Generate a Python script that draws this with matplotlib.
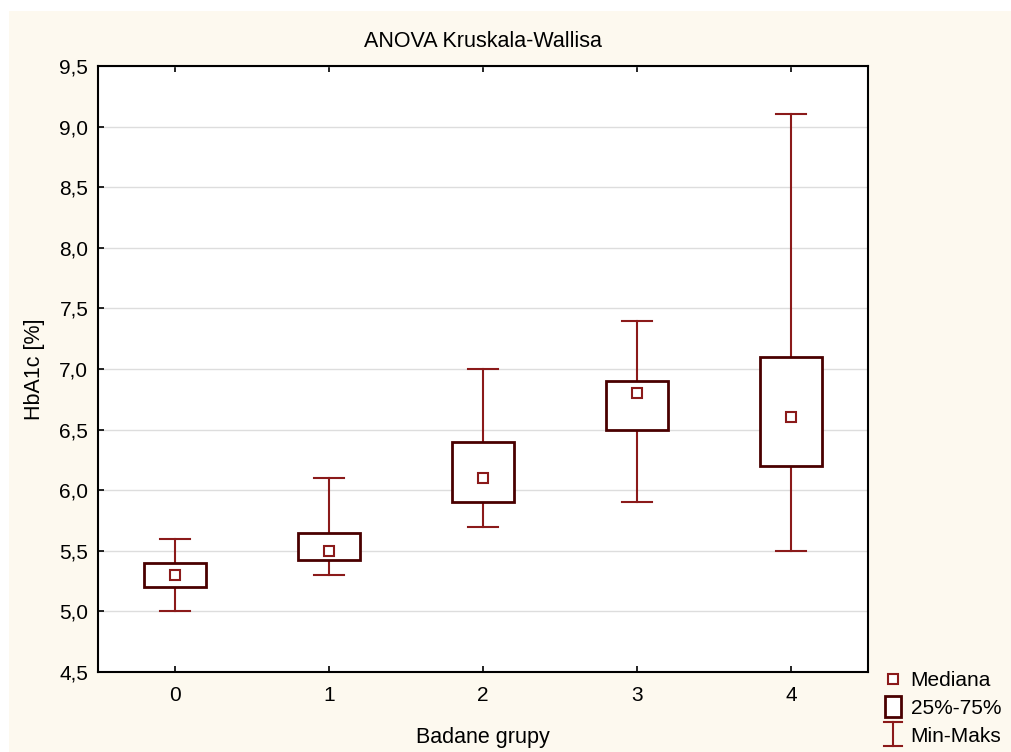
import numpy as np
import matplotlib
matplotlib.use('Agg')
import matplotlib.pyplot as plt
from matplotlib.patches import Rectangle
from matplotlib.lines import Line2D
from matplotlib.legend_handler import HandlerBase
from matplotlib.ticker import FuncFormatter

plt.rcParams['font.family'] = ['Liberation Sans', 'DejaVu Sans']

groups = [0, 1, 2, 3, 4]
mins = [5.0, 5.3, 5.7, 5.9, 5.5]
q1 = [5.2, 5.42, 5.9, 6.5, 6.2]
medians = [5.3, 5.5, 6.1, 6.8, 6.6]
q3 = [5.4, 5.65, 6.4, 6.9, 7.1]
maxs = [5.6, 6.1, 7.0, 7.4, 9.1]

box_col = '#4a0000'
whisk_col = '#8b1a1a'
bg = '#fdf9ef'


# legend handle sizes are in points
class BoxHandler(HandlerBase):
    def create_artists(self, legend, orig, xd, yd, w, h, fs, trans):
        cx, cy = w / 2 - xd, h / 2 - yd
        r = Rectangle((cx - 6, cy - 7.5), 12, 15, facecolor='white',
                      edgecolor=box_col, lw=2, transform=trans)
        return [r]


class IBeamHandler(HandlerBase):
    def create_artists(self, legend, orig, xd, yd, w, h, fs, trans):
        cx, cy = w / 2 - xd, h / 2 - yd
        kw = dict(color=whisk_col, lw=1.5, transform=trans)
        return [Line2D([cx, cx], [cy - 8.5, cy + 8.5], **kw),
                Line2D([cx - 6.5, cx + 6.5], [cy + 8.5, cy + 8.5], **kw),
                Line2D([cx - 6.5, cx + 6.5], [cy - 8.5, cy - 8.5], **kw)]


fig = plt.figure(figsize=(10.11, 7.52), dpi=100, facecolor='white')
fig.patches.append(Rectangle((9/1011, 0), 1 - 9/1011, 1 - 11/752, transform=fig.transFigure,
                             facecolor=bg, edgecolor='none', zorder=-10))
ax = fig.add_axes([98/1011, 80/752, 770/1011, 606/752])
ax.set_facecolor('white')

bw = 0.4
cw = 0.2
for x, lo, a, m, b, hi in zip(groups, mins, q1, medians, q3, maxs):
    ax.plot([x, x], [lo, a], color=whisk_col, lw=1.5, zorder=3)
    ax.plot([x, x], [b, hi], color=whisk_col, lw=1.5, zorder=3)
    ax.plot([x - cw/2, x + cw/2], [lo, lo], color=whisk_col, lw=1.5, zorder=3)
    ax.plot([x - cw/2, x + cw/2], [hi, hi], color=whisk_col, lw=1.5, zorder=3)
    ax.add_patch(Rectangle((x - bw/2, a), bw, b - a, facecolor='white',
                           edgecolor=box_col, lw=2, zorder=4))
ax.plot(groups, medians, 's', ms=6.5, mfc='white', mec=whisk_col, mew=1.5, ls='none', zorder=5)

ax.set_xlim(-0.5, 4.5)
ax.set_ylim(4.5, 9.5)
ax.set_yticks(np.arange(4.5, 9.51, 0.5))
ax.set_xticks(groups)
ax.yaxis.set_major_formatter(FuncFormatter(lambda v, p: f'{v:.1f}'.replace('.', ',')))
ax.grid(axis='y', color='#dddddd', lw=1)
ax.set_axisbelow(True)
ax.tick_params(direction='in', length=4, width=1.2, labelsize=15, top=True, pad=10)
ax.tick_params(axis='y', pad=7)
for s in ax.spines.values():
    s.set_linewidth(1.5)

ax.set_title('ANOVA Kruskala-Wallisa', fontsize=15.5, pad=14)
ax.set_xlabel('Badane grupy', fontsize=15.5, labelpad=16)
ax.set_ylabel('HbA1c [%]', fontsize=15.5, labelpad=10)

handles = [
    Line2D([], [], marker='s', ms=6.5, mfc='white', mec=whisk_col, mew=1.5, ls='none'),
    Rectangle((0, 0), 1, 1),
    Line2D([], []),
]
fig.legend(handles, ['Mediana', '25%-75%', 'Min-Maks'], loc='lower left',
           bbox_to_anchor=(872/1011, -4/752), frameon=False, fontsize=15,
           borderpad=0, handlelength=1.0, handletextpad=0.35, labelspacing=0.42,
           handler_map={handles[1]: BoxHandler(), handles[2]: IBeamHandler()})

fig.savefig('out.png', dpi=100, facecolor=fig.get_facecolor())
